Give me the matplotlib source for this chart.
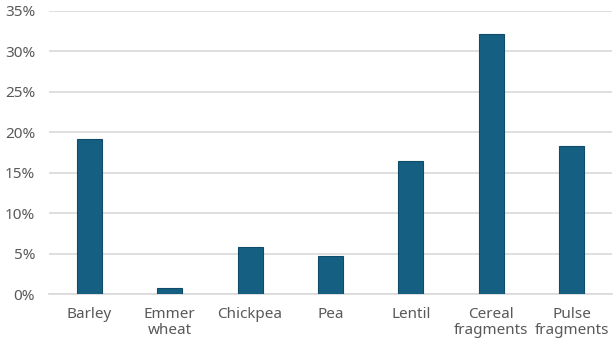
import matplotlib
matplotlib.use('Agg')
import matplotlib.pyplot as plt
from matplotlib.ticker import PercentFormatter

categories = ['Barley', 'Emmer\nwheat', 'Chickpea', 'Pea', 'Lentil', 'Cereal\nfragments', 'Pulse\nfragments']
values = [19.2, 0.8, 5.8, 4.7, 16.5, 32.2, 18.3]

plt.rcParams['font.family'] = ['Noto Sans', 'DejaVu Sans']
fig = plt.figure(figsize=(6.16, 3.47), dpi=100)
ax = fig.add_axes([0.0795, 0.1527, 0.914, 0.816])

x = range(len(categories))
ax.bar(x, values, width=0.31, color='#156082', edgecolor='#0f4c6b', linewidth=0.8, zorder=3)

ax.set_ylim(0, 35)
ax.set_xlim(-0.5, len(categories) - 0.5)
ax.set_yticks(range(0, 36, 5))
ax.yaxis.set_major_formatter(PercentFormatter(decimals=0))
ax.set_xticks(list(x))
ax.set_xticklabels(categories, linespacing=1.1)
ax.grid(axis='y', color='#d9d9d9', linewidth=1.2, zorder=0)
for s in ['top', 'right', 'left']:
    ax.spines[s].set_visible(False)
ax.spines['bottom'].set_color('#d9d9d9')
ax.spines['bottom'].set_linewidth(1.2)
ax.tick_params(axis='both', length=0, labelsize=11, labelcolor='#595959')
ax.tick_params(axis='y', pad=10)
ax.tick_params(axis='x', pad=9)

fig.savefig('out.png', dpi=100)
